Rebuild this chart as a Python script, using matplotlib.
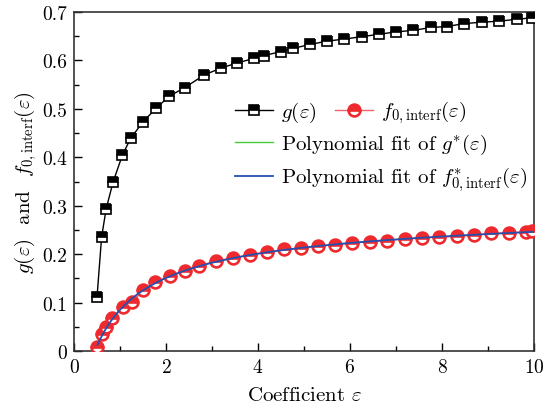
import numpy as np
import matplotlib
matplotlib.use("Agg")
import matplotlib.pyplot as plt
from matplotlib.lines import Line2D
from matplotlib.ticker import MultipleLocator, FuncFormatter

plt.rcParams['font.family'] = ['cmr10', 'DejaVu Serif']
plt.rcParams['mathtext.fontset'] = 'cm'
plt.rcParams['axes.formatter.use_mathtext'] = True

# g(eps) data
g_x = [0.5, 0.6, 0.7, 0.85, 1.05, 1.23, 1.5, 1.78, 2.07, 2.41, 2.83, 3.19, 3.55,
       3.91, 4.13, 4.49, 4.77, 5.13, 5.51, 5.87, 6.25, 6.63, 7.0, 7.38, 7.75,
       8.10, 8.48, 8.86, 9.24, 9.62, 9.96]
g_y = [0.111, 0.235, 0.294, 0.349, 0.404, 0.439, 0.473, 0.501, 0.526, 0.544,
       0.570, 0.584, 0.595, 0.604, 0.610, 0.618, 0.625, 0.633, 0.640, 0.644,
       0.649, 0.654, 0.659, 0.662, 0.668, 0.670, 0.676, 0.679, 0.681, 0.685, 0.688]

# f0,interf(eps) data
f_x = [0.51, 0.61, 0.69, 0.83, 1.07, 1.27, 1.51, 1.76, 2.09, 2.41, 2.72, 3.09,
       3.45, 3.83, 4.19, 4.57, 4.94, 5.31, 5.67, 6.05, 6.44, 6.81, 7.20, 7.57,
       7.94, 8.32, 8.70, 9.07, 9.45, 9.83, 9.96]
f_y = [0.009, 0.035, 0.049, 0.068, 0.090, 0.102, 0.125, 0.142, 0.155, 0.166,
       0.176, 0.186, 0.192, 0.199, 0.204, 0.210, 0.212, 0.217, 0.219, 0.223,
       0.226, 0.228, 0.232, 0.234, 0.235, 0.237, 0.239, 0.243, 0.244, 0.246, 0.247]

x_ticks = [0, 2, 4, 6, 8, 10]
y_ticks = [0, 0.1, 0.2, 0.3, 0.4, 0.5, 0.6, 0.7]

fig = plt.figure(figsize=(5.44, 4.10), dpi=100)
ax = fig.add_axes([74/544, 1 - 352/410, (534-74)/544, (352-13)/410])

red = '#ee2a2e'
black_line, = ax.plot(g_x, g_y, color='black', lw=1.0, marker='s', markersize=7.5,
                      fillstyle='top', markerfacecolor='black', markerfacecoloralt='white',
                      markeredgecolor='black', markeredgewidth=1.2, zorder=3)
red_line, = ax.plot(f_x, f_y, color='#f06468', lw=1.0, marker='o', markersize=8.5,
                    fillstyle='top', markerfacecolor=red, markerfacecoloralt='white',
                    markeredgecolor=red, markeredgewidth=1.9, zorder=3)

# polynomial fit of f (in log eps)
fx = np.array(f_x)
coef = np.polyfit(np.log(fx), np.array(f_y), 4)
xs = np.linspace(min(f_x), 10, 300)
blue_line, = ax.plot(xs, np.polyval(coef, np.log(xs)), color='#2350b0', lw=1.3, zorder=4)
green_proxy = Line2D([], [], color='#44cc33', lw=1.0)

ax.set_xlim(0, 10)
ax.set_ylim(0, 0.7)
ax.set_xticks(x_ticks)
ax.set_yticks(y_ticks)
ax.xaxis.set_minor_locator(MultipleLocator(1))
ax.yaxis.set_minor_locator(MultipleLocator(0.05))
ax.yaxis.set_major_formatter(FuncFormatter(lambda v, p: '0' if abs(v) < 1e-9 else f'{v:.1f}'))
ax.tick_params(which='both', direction='in', top=False, right=False, labelsize=14)
ax.tick_params(which='major', length=6, width=1.0, pad=5)
ax.tick_params(which='minor', length=3.5, width=1.0)
for s in ax.spines.values():
    s.set_linewidth(1.2)
    s.set_color('#333333')

FS = 15
ax.set_xlabel(r'Coefficient $\varepsilon$', fontsize=FS, labelpad=7)
ax.set_ylabel(r'$g(\varepsilon)$  and  $f_{0,\mathrm{interf}}(\varepsilon)$', fontsize=FS, labelpad=2)

leg1 = ax.legend([black_line, red_line], [r'$g(\varepsilon)$', r'$f_{0,\mathrm{interf}}(\varepsilon)$'],
                 ncol=2, frameon=False, fontsize=FS, loc='center left',
                 bbox_to_anchor=(0.35, 0.705), handlelength=1.8, columnspacing=0.9,
                 handletextpad=0.4, borderaxespad=0, borderpad=0)
ax.add_artist(leg1)
ax.legend([green_proxy, blue_line],
          [r'Polynomial fit of $g^{*}(\varepsilon)$', r'Polynomial fit of $f^{*}_{0,\mathrm{interf}}(\varepsilon)$'],
          frameon=False, fontsize=FS, loc='center left', bbox_to_anchor=(0.35, 0.555),
          handlelength=1.8, handletextpad=0.4, borderaxespad=0, borderpad=0, labelspacing=0.4)

fig.savefig('out.png', dpi=100)
